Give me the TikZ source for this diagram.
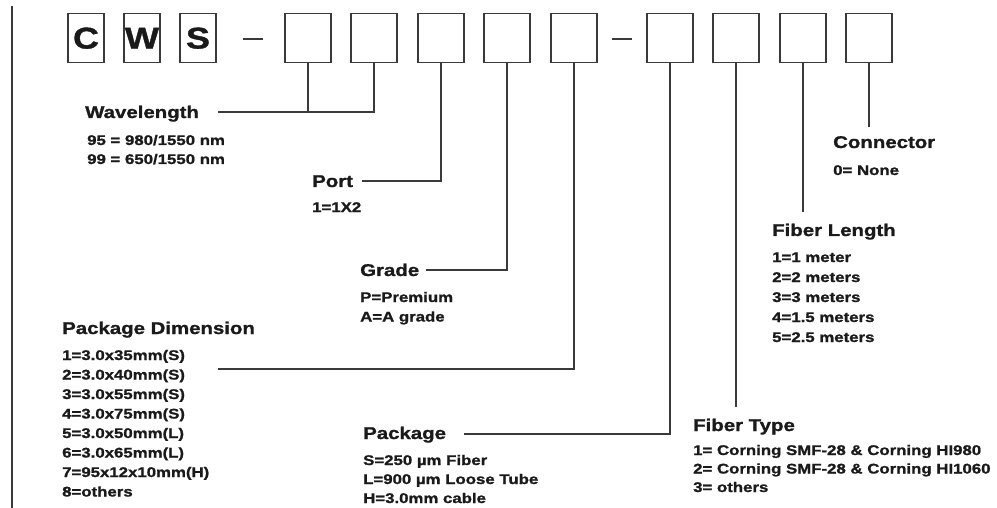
\documentclass[tikz,border=0pt]{standalone}
\usepackage{fontspec}
\newfontfamily\lab{Liberation Sans}[FakeStretch=1.2,FakeBold=1.2]
\definecolor{ink}{HTML}{1A1A1A}
\definecolor{rule}{HTML}{3A3A3A}
\begin{document}
\begin{tikzpicture}[x=1pt,y=-1pt,
  codebox/.style={draw=rule,line width=1.4pt,minimum width=46pt,minimum height=49pt,inner sep=0pt,anchor=north},
  letterbox/.style={draw=rule,line width=1.4pt,minimum width=36pt,minimum height=49pt,inner sep=0pt,anchor=north,
     font=\lab\bfseries\fontsize{30}{30}\selectfont,text=ink},
  head/.style={anchor=base west,inner sep=0pt,text=ink,font=\lab\bfseries\fontsize{17}{17}\selectfont},
  item/.style={anchor=base west,inner sep=0pt,text=ink,font=\lab\bfseries\fontsize{14}{14}\selectfont},
  conn/.style={draw=rule,line width=1.2pt},
  dashline/.style={draw=rule,line width=1.4pt}]
\useasboundingbox (0,0) rectangle (997,508);
% left margin rule
\coordinate (mt) at (12,6);
\coordinate (mb) at (12,508);
\draw[conn] (mt) -- (mb);
% code boxes
\node[letterbox] (c) at (86,13) {C};
\node[letterbox] (w) at (142,13) {W};
\node[letterbox] (s) at (198,13) {S};
\node[codebox] (b1) at (308,13) {};
\node[codebox] (b2) at (374,13) {};
\node[codebox] (b3) at (441,13) {};
\node[codebox] (b4) at (507,13) {};
\node[codebox] (b5) at (574,13) {};
\node[codebox] (b6) at (670,13) {};
\node[codebox] (b7) at (736,13) {};
\node[codebox] (b8) at (803,13) {};
\node[codebox] (b9) at (869,13) {};
% dashes
\draw[dashline] (243,39) -- (263,39);
\draw[dashline] (612,39) -- (632,39);
% Wavelength
\node[head] (wl) at (85,118) {Wavelength};
\node[item] (wl1) at (87,145) {95 = 980/1550 nm};
\node[item] (wl2) at (87,164) {99 = 650/1550 nm};
\coordinate (wlL) at (218,112);
\draw[conn] (b2.south) |- (wlL);
\draw[conn] (b1.south) -- (b1.south |- wlL);
% Port
\node[head] (port) at (312,187) {Port};
\node[item] (port1) at (312,212) {1=1X2};
\coordinate (portL) at (362,181);
\draw[conn] (b3.south) |- (portL);
% Grade
\node[head] (grade) at (360,276) {Grade};
\node[item] (grade1) at (360,302) {P=Premium};
\node[item] (grade2) at (360,321.5) {A=A grade};
\coordinate (gradeL) at (426,270);
\draw[conn] (b4.south) |- (gradeL);
% Package Dimension
\node[head] (pd) at (62,334) {Package Dimension};
\foreach \t [count=\i] in {1=3.0x35mm(S),2=3.0x40mm(S),3=3.0x55mm(S),4=3.0x75mm(S),5=3.0x50mm(L),6=3.0x65mm(L),7=95x12x10mm(H),8=others}
  \node[item] (pd\i) at (62,{360+19.5*(\i-1)}) {\t};
\coordinate (pdL) at (218,369);
\draw[conn] (b5.south) |- (pdL);
% Package
\node[head] (pk) at (363,439) {Package};
\node[item] (pk1) at (363,465) {S=250 µm Fiber};
\node[item] (pk2) at (363,484) {L=900 µm Loose Tube};
\node[item] (pk3) at (363,503) {H=3.0mm cable};
\coordinate (pkL) at (464,434);
\draw[conn] (b6.south) |- (pkL);
% Fiber Type
\node[head] (ft) at (693,431) {Fiber Type};
\node[item] (ft1) at (693,455) {1= Corning SMF-28 \& Corning HI980};
\node[item] (ft2) at (693,473.5) {2= Corning SMF-28 \& Corning HI1060};
\node[item] (ft3) at (693,492) {3= others};
\coordinate (ftE) at (736,407);
\draw[conn] (b7.south) -- (ftE);
% Fiber Length
\node[head] (fl) at (772,236) {Fiber Length};
\foreach \t [count=\i] in {1=1 meter,2=2 meters,3=3 meters,4=1.5 meters,5=2.5 meters}
  \node[item] (fl\i) at (772,{262+20*(\i-1)}) {\t};
\coordinate (flE) at (803,212);
\draw[conn] (b8.south) -- (flE);
% Connector
\node[head] (cn) at (833,148) {Connector};
\node[item] (cn1) at (833,175) {0= None};
\coordinate (cnE) at (869,127);
\draw[conn] (b9.south) -- (cnE);
\end{tikzpicture}
\end{document}
